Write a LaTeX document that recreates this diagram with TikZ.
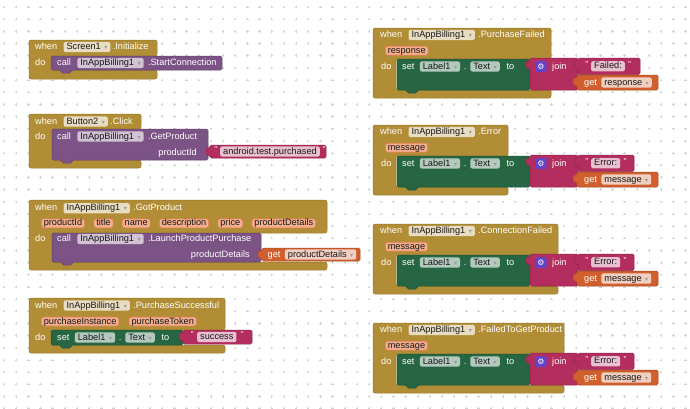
\documentclass[tikz,border=0pt]{standalone}
\usepackage{fontspec}
\setmainfont{Liberation Sans}
\newfontfamily\symfont{DejaVu Sans}
\usetikzlibrary{positioning}
\definecolor{evtcol}{HTML}{B18E35}
\definecolor{callcol}{HTML}{7C5385}
\definecolor{setcol}{HTML}{266643}
\definecolor{txtcol}{HTML}{B32D5E}
\definecolor{getcol}{HTML}{D05F2D}
\definecolor{prmfill}{HTML}{F2AE8E}
\definecolor{prmline}{HTML}{E27E4E}
\definecolor{gearcol}{HTML}{6443C8}
\definecolor{dotcol}{HTML}{D2D2D2}
\colorlet{evtfld}{evtcol!30!white}
\colorlet{callfld}{callcol!35!white}
\colorlet{setfld}{setcol!35!white}
\colorlet{txtfld}{txtcol!30!white}
\colorlet{getfld}{getcol!30!white}

\newcommand{\blk}{\fontsize{9.2}{10}\selectfont}
\newcommand{\dd}{\hspace{3.5pt}{\symfont\fontsize{6}{6}\selectfont\color{black!40}▾}}

% event block with its "do" mouth
\newcommand{\evshape}[6]{%
  \filldraw[evt] (#1,#2) -- (#3,#2) -- (#3,#4) -- (#1+23,#4) -- (#1+23,#5)
    -- (#3,#5) -- (#3,#6) -- (#1,#6) -- cycle;}
% statement block with its nub
\newcommand{\stshape}[5]{%
  \filldraw[#1] (#2,#3) -- (#4,#3) -- (#4,#5) -- (#2+20,#5) -- (#2+20,#5+3)
    -- (#2+10,#5+3) -- (#2+10,#5) -- (#2,#5) -- cycle;}
% value block with its plug
\newcommand{\valshape}[5]{%
  \filldraw[#1] (#2,#3) -- (#4,#3) -- (#4,#5) -- (#2,#5) -- (#2,#3+10)
    -- (#2-4,#3+10) -- (#2-4,#3+3) -- (#2,#3+3) -- cycle;}

\begin{document}
\begin{tikzpicture}[x=1pt, y=-1pt,
    evt/.style={fill=evtcol, draw=evtcol!85!black, line width=0.5pt, rounded corners=2pt},
    callb/.style={fill=callcol, draw=callcol!80!black, line width=0.5pt, rounded corners=1.5pt},
    setb/.style={fill=setcol, draw=setcol!80!black, line width=0.5pt, rounded corners=1.5pt},
    txtb/.style={fill=txtcol, draw=txtcol!80!black, line width=0.5pt, rounded corners=1.5pt},
    getb/.style={fill=getcol, draw=getcol!80!black, line width=0.5pt, rounded corners=1.5pt},
    lbl/.style={text=white, font=\blk, inner sep=0pt, text height=7pt, text depth=2pt, anchor=west},
    fld/.style={fill=#1, rounded corners=2pt, text=black!90, font=\blk, inner xsep=3pt,
                inner ysep=0.6pt, text height=7pt, text depth=2pt, anchor=west},
    prm/.style={fill=prmfill, draw=prmline, line width=0.6pt, rounded corners=2.5pt,
                text=black!90, font=\blk, inner xsep=2.5pt, inner ysep=0pt,
                text height=7pt, text depth=2pt, anchor=west},
    quot/.style={text=white, font=\fontsize{8.5}{8}\selectfont, inner sep=0pt},
    gear/.style={fill=gearcol, rounded corners=1.5pt, minimum size=11pt, inner sep=0pt,
                 text=white, font=\symfont\fontsize{8}{8}\selectfont}
  ]
  \useasboundingbox (0,0) rectangle (690,408);
  \fill[white] (0,0) rectangle (690,408);
  % workspace grid
  \draw[dotcol, line width=0.5pt] \foreach \i in {0,...,56} { \foreach \j in {0,...,33} {
      ({4+12.17*\i-1.2},{7+12.17*\j}) -- ++(2.4,0)
      ({4+12.17*\i},{7+12.17*\j-1.2}) -- ++(0,2.4) } };

  % Screen1.Initialize
  \evshape{29}{40}{157}{56}{70}{79}
  \stshape{callb}{51}{56}{222}{70}
  \node[lbl] (w1) at (35,47) {when};
  \node[fld=evtfld, right=6pt of w1] (scr) {Screen1\dd};
  \node[lbl, right=2pt of scr] (ini) {.Initialize};
  \node[lbl] (do1) at (35,63) {do};
  \node[lbl] (call1) at (57,63) {call};
  \node[fld=callfld, right=6pt of call1] (iab1) {InAppBilling1\dd};
  \node[lbl, right=4pt of iab1] (conn) {.StartConnection};

  % Button2.Click
  \evshape{29}{114}{141}{129}{160}{168}
  \stshape{callb}{52}{129}{208}{160}
  \valshape{txtb}{210}{145}{326}{158}
  \node[lbl] (w2) at (35,121.5) {when};
  \node[fld=evtfld, right=6pt of w2] (btn) {Button2\dd};
  \node[lbl, right=2pt of btn] (clk) {.Click};
  \node[lbl] (do2) at (35,136.5) {do};
  \node[lbl] (call2) at (57,136.5) {call};
  \node[fld=callfld, right=6pt of call2] (iab2) {InAppBilling1\dd};
  \node[lbl, right=4pt of iab2] (getp) {.GetProduct};
  \node[lbl, anchor=east] (pid) at (197,152.5) {productId};
  \node[fld=txtfld] (pkg) at (220,151.5) {android.test.purchased};
  \node[quot, anchor=north east] (pkga) at ([xshift=-2.5pt]pkg.north west) {"};
  \node[quot, anchor=north west] (pkgb) at ([xshift=2.5pt]pkg.north east) {"};

  % InAppBilling1.GotProduct
  \evshape{29}{200}{327}{233}{262}{270}
  \stshape{callb}{52}{233}{261}{262}
  \valshape{getb}{262}{248}{360}{261}
  \node[lbl] (w3) at (35,208.3) {when};
  \node[fld=evtfld, right=6pt of w3] (iab3) {InAppBilling1\dd};
  \node[lbl, right=3pt of iab3] (gotp) {.GotProduct};
  \node[prm] (p1) at (41,223.3) {productId};
  \node[prm, right=8.5pt of p1] (p2) {title};
  \node[prm, right=8.5pt of p2] (p3) {name};
  \node[prm, right=8.5pt of p3] (p4) {description};
  \node[prm, right=8.5pt of p4] (p5) {price};
  \node[prm, right=8.5pt of p5] (p6) {productDetails};
  \node[lbl] (do3) at (35,239) {do};
  \node[lbl] (call3) at (57,239) {call};
  \node[fld=callfld, right=6pt of call3] (iab4) {InAppBilling1\dd};
  \node[lbl, right=4pt of iab4] (lpp) {.LaunchProductPurchase};
  \node[lbl, anchor=east] (pdet) at (250,255) {productDetails};
  \node[lbl] (get3) at (267.5,254.5) {get};
  \node[fld=getfld, right=4pt of get3] (var3) {productDetails\dd};

  % InAppBilling1.PurchaseSuccessful
  \evshape{29}{298}{225}{330}{345}{353}
  \stshape{setb}{51}{330}{183}{345}
  \valshape{txtb}{183}{330}{252}{344}
  \node[lbl] (w4) at (35,305.5) {when};
  \node[fld=evtfld, right=6pt of w4] (iab5) {InAppBilling1\dd};
  \node[lbl, right=3pt of iab5] (psucc) {.PurchaseSuccessful};
  \node[prm] (p7) at (41,321.5) {purchaseInstance};
  \node[prm, right=9.5pt of p7] (p8) {purchaseToken};
  \node[lbl] (do4) at (35,337.5) {do};
  \node[lbl] (set4) at (57,337.5) {set};
  \node[fld=setfld, right=5pt of set4] (lab4) {Label1\dd};
  \node[lbl, right=3.5pt of lab4] (dot4) {.};
  \node[fld=setfld, right=3.5pt of dot4] (prop4) {Text\dd};
  \node[lbl, right=6.5pt of prop4] (to4) {to};
  \node[fld=txtfld] (succ) at (197,337) {success};
  \node[quot, anchor=north east] (succa) at ([xshift=-3pt]succ.north west) {"};
  \node[quot, anchor=north west] (succb) at ([xshift=4pt]succ.north east) {"};

  % error handlers on the right
  \foreach \y/\r/\ev/\arg/\msg/\tend [count=\n] in
      {28/551/PurchaseFailed/response/Failed:/640,
       125/508/Error/message/Error:/634,
       224/558/ConnectionFailed/message/Error:/634,
       323/564/FailedToGetProduct/message/Error:/634} {
    \evshape{373}{\y}{\r}{\y+31}{\y+62}{\y+70}
    \stshape{setb}{397}{\y+31}{530}{\y+62}
    \valshape{txtb}{530}{\y+30}{578}{\y+62}
    \valshape{txtb}{578}{\y+30}{\tend}{\y+46.5}
    \valshape{getb}{577}{\y+47}{658}{\y+62}
    \node[lbl] (w\n) at (380,\y+7) {when};
    \node[fld=evtfld, right=6pt of w\n] (comp\n) {InAppBilling1\dd};
    \node[lbl, right=3pt of comp\n] (ev\n) {.\ev};
    \node[prm] (arg\n) at (385,\y+22.7) {\arg};
    \node[lbl] (do\n) at (381,\y+38.5) {do};
    \node[lbl] (set\n) at (402,\y+38.5) {set};
    \node[fld=setfld, right=5pt of set\n] (lab\n) {Label1\dd};
    \node[lbl, right=3.5pt of lab\n] (dot\n) {.};
    \node[fld=setfld, right=3.5pt of dot\n] (prop\n) {Text\dd};
    \node[lbl, right=6.5pt of prop\n] (to\n) {to};
    \node[gear] (gr\n) at (541,\y+38.5) {⚙};
    \node[lbl] (join\n) at (552,\y+38.5) {join};
    \node[fld=txtfld] (str\n) at (591,\y+38.3) {\msg};
    \node[quot, anchor=north east] (qa\n) at ([xshift=-2.5pt]str\n.north west) {"};
    \node[quot, anchor=north west] (qb\n) at ([xshift=3pt]str\n.north east) {"};
    \node[lbl] (get\n) at (584,\y+54.5) {get};
    \node[fld=getfld, right=4pt of get\n] (var\n) {\arg\dd};
  }
\end{tikzpicture}
\end{document}
